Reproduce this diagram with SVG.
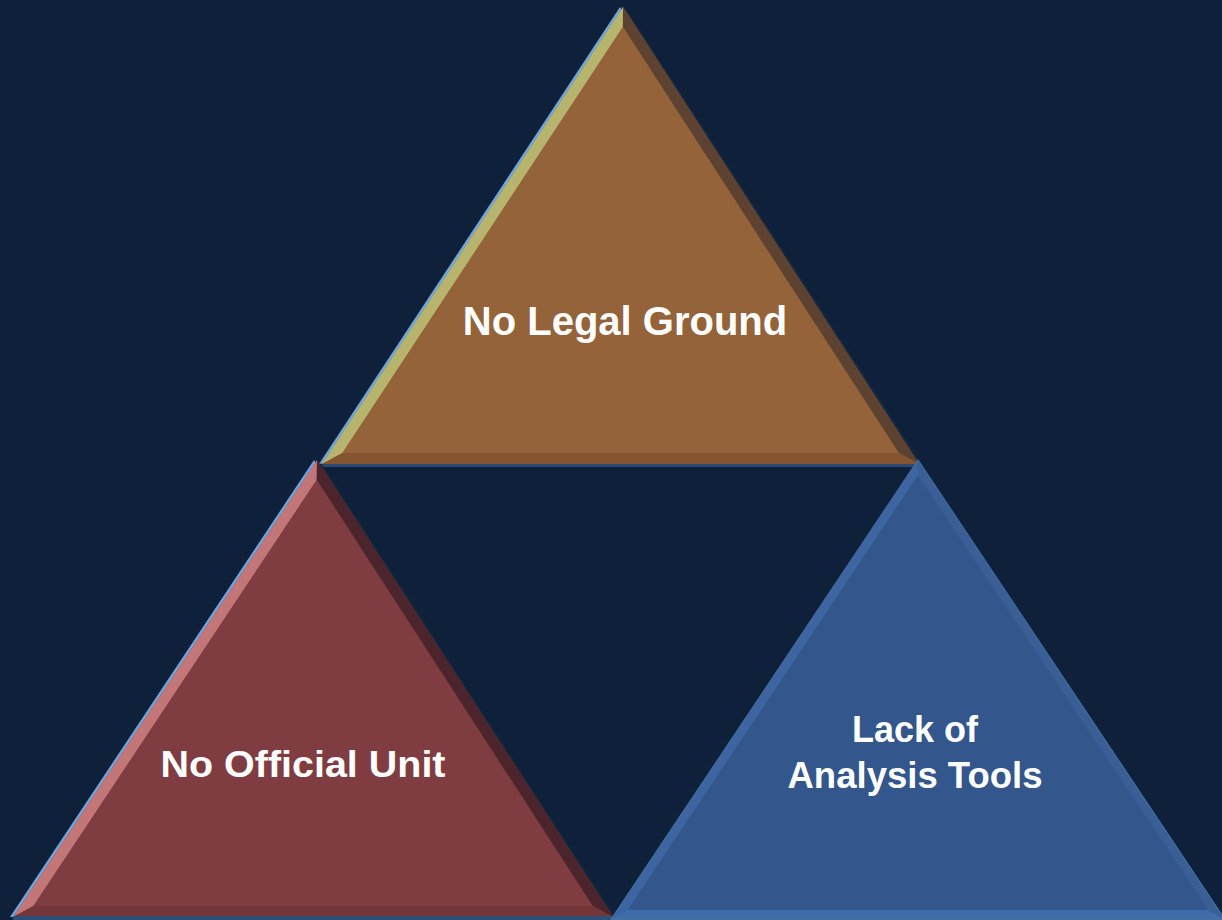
<svg xmlns="http://www.w3.org/2000/svg" width="1222" height="920" viewBox="0 0 1222 920">
  <style>
    .lbl { font-family: "Liberation Sans", Arial, sans-serif; font-weight: bold; fill: #ffffff; text-anchor: middle; }
    .rim { fill: #6ea6e0; }
    .shadow { fill: #17283e; }
    .floor { fill: #2a4a72; }
  </style>
  <rect x="0" y="0" width="1222" height="920" fill="#0f213a"/>

  <g id="connectors"></g>

  <g id="node-legal">
    <polygon class="shadow" points="627,10 326,467 924,467"/>
    <rect class="floor" x="322" y="464" width="600" height="3"/>
    <polygon class="rim" points="620,7 319,464 916,464"/>
    <polygon fill="#94633a" points="623,7 322,464 919,464"/>
    <polygon fill="#b6b46d" points="623,7 322,464 342.4,453 622.9,27.1"/>
    <polygon fill="#5e4231" points="623,7 919,464 898.7,453 622.9,27.1"/>
    <polygon fill="#85552f" points="322,464 919,464 898.7,453 342.4,453"/>
    <polygon fill="#94633a" points="622.9,27.1 342.4,453 898.7,453"/>
    <text class="lbl" x="625" y="335" font-size="40">No Legal Ground</text>
  </g>

  <g id="node-unit">
    <polygon class="shadow" points="321,463 17,920 617,920"/>
    <polygon class="rim" points="314,460 10,917 610,917"/>
    <polygon fill="#803d41" points="317,460 13,917 613,917"/>
    <polygon fill="#c27677" points="317,460 13,917 33.4,906 316.7,480"/>
    <polygon fill="#4c252c" points="317,460 613,917 592.6,906 316.7,480"/>
    <polygon fill="#753639" points="13,917 613,917 592.6,906 33.4,906"/>
    <polygon fill="#803d41" points="316.7,480 33.4,906 592.6,906"/>
    <rect fill="#2c4f7a" x="13" y="916" width="600" height="4"/>
    <text class="lbl" x="303" y="777" font-size="36" textLength="285" lengthAdjust="spacingAndGlyphs">No Official Unit</text>
  </g>

  <g id="node-tools">
    <polygon fill="#44719f" points="918,459 610,920 1226,920"/>
    <polygon fill="#33568c" points="918,461 613,918 1223,918"/>
    <polygon fill="#3c65a1" points="918,461 613,918 628,910 918,475.4"/>
    <polygon fill="#3a5f96" points="918,461 1223,918 1208,910 918,475.4"/>
    <polygon fill="#3f6cab" points="613,918 1223,918 1208,910 628,910"/>
    <polygon fill="#33568c" points="918,475.4 628,910 1208,910"/>
    <text class="lbl" font-size="36"><tspan x="915" y="742">Lack of</tspan><tspan x="915" y="788" textLength="255" lengthAdjust="spacingAndGlyphs">Analysis Tools</tspan></text>
  </g>
</svg>
